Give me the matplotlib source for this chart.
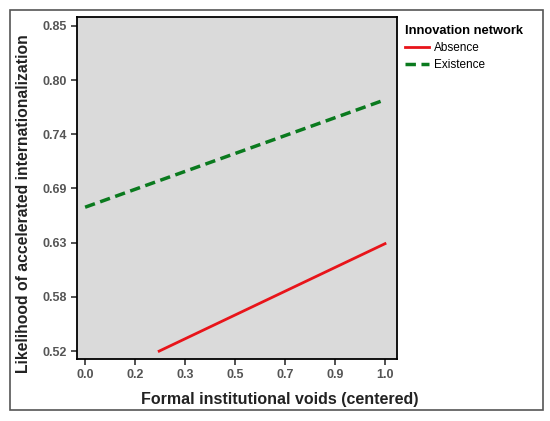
import matplotlib
matplotlib.use("Agg")
import matplotlib.pyplot as plt
import numpy as np

plt.rcParams["font.family"] = ["Liberation Sans", "DejaVu Sans"]

# data
absence_x = [0.247, 1.0]
absence_y = [0.520, 0.629]
existence_x = [0.0, 1.0]
existence_y = [0.666, 0.775]

x_ticks = [k / 6 for k in range(7)]
x_ticklabels = ["0.0", "0.2", "0.3", "0.5", "0.7", "0.9", "1.0"]
y_ticks = [0.52 + 0.055 * k for k in range(7)]
y_ticklabels = ["0.52", "0.58", "0.63", "0.69", "0.74", "0.80", "0.85"]

fig = plt.figure(figsize=(5.5, 4.21), dpi=100)
ax = fig.add_axes([77 / 550, 1 - 359 / 421, 320 / 550, 342 / 421])

# outer frame round the whole chart
fig.patches.append(plt.Rectangle((10 / 550, 1 - 410 / 421), 533 / 550, 400 / 421,
                                 transform=fig.transFigure, fill=False,
                                 edgecolor="#555555", linewidth=1.2))

ax.set_facecolor("#dadada")
ax.plot(absence_x, absence_y, color="#e8141a", linewidth=2, label="Absence")
ax.plot(existence_x, existence_y, color="#0a7a1e", linewidth=2.5,
        linestyle=(0, (3, 1.6)), label="Existence")

ax.set_xlim(-0.027, 1.04)
ax.set_ylim(0.512, 0.859)
ax.set_xticks(x_ticks)
ax.set_xticklabels(x_ticklabels)
ax.set_yticks(y_ticks)
ax.set_yticklabels(y_ticklabels)
ax.tick_params(labelsize=9, colors="#333333", length=4, width=1.2)
for lab in ax.get_xticklabels() + ax.get_yticklabels():
    lab.set_fontweight("bold")
    lab.set_color("#555555")
for sp in ax.spines.values():
    sp.set_linewidth(1.3)

ax.set_xlabel("Formal institutional voids (centered)", fontsize=11.5,
              fontweight="bold", color="#222222")
ax.set_ylabel("Likelihood of accelerated internationalization", fontsize=11.3,
              fontweight="bold", color="#222222")
ax.xaxis.set_label_coords(0.634, -0.096)
ax.yaxis.set_label_coords(-0.143, 0.455)

leg = ax.legend(loc="upper left", bbox_to_anchor=(0.998, 1.0), frameon=False,
                title="Innovation network", fontsize=8.5, handlelength=2.1,
                borderaxespad=0.3, labelspacing=0.4, handletextpad=0.4)
leg.get_title().set_fontweight("bold")
leg.get_title().set_fontsize(9.3)
leg._legend_box.align = "left"

fig.savefig("out.png", dpi=100)
